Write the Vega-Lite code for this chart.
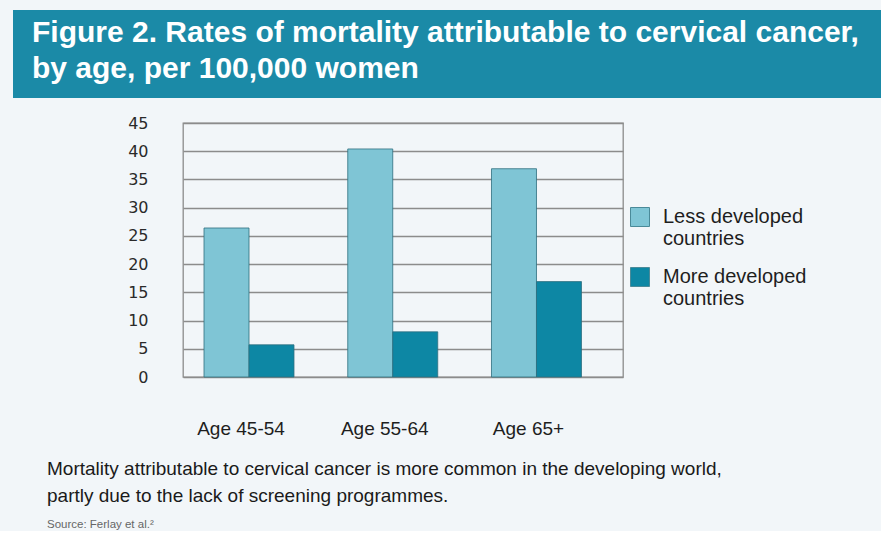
{
  "$schema": "https://vega.github.io/schema/vega-lite/v6.json",
  "background": "#f2f6f9",
  "padding": {"left": 13, "top": 10, "right": 0, "bottom": 0},
  "spacing": 17,
  "config": {"view": {"stroke": null}, "font": "Liberation Sans"},
  "datasets": {
    "rates": [
      {"age": "Age 45-54", "group": "Less developed countries", "rate": 26.4},
      {"age": "Age 45-54", "group": "More developed countries", "rate": 5.7},
      {"age": "Age 55-64", "group": "Less developed countries", "rate": 40.4},
      {"age": "Age 55-64", "group": "More developed countries", "rate": 8.0},
      {"age": "Age 65+", "group": "Less developed countries", "rate": 36.9},
      {"age": "Age 65+", "group": "More developed countries", "rate": 16.9}
    ]
  },
  "vconcat": [
    {
      "width": 868,
      "height": 88,
      "view": {"fill": "#1b8aa7", "stroke": null},
      "data": {"values": [
        {"line": 1, "text": "Figure 2. Rates of mortality attributable to cervical cancer,"},
        {"line": 2, "text": "by age, per 100,000 women"}
      ]},
      "mark": {"type": "text", "align": "left", "baseline": "alphabetic", "dx": 19, "font": "Liberation Sans", "fontWeight": "bold", "fontSize": 30, "color": "#ffffff"},
      "encoding": {
        "x": {"datum": 0, "type": "quantitative", "scale": {"domain": [0, 1]}, "axis": null},
        "y": {"field": "line", "type": "quantitative", "scale": {"domain": [0.111, 2.556], "reverse": true, "zero": false, "nice": false}, "axis": null},
        "text": {"field": "text"}
      }
    },
    {
      "spacing": 34,
      "resolve": {"scale": {"y": "shared"}},
      "title": {
        "text": ["Mortality attributable to cervical cancer is more common in the developing world,", "partly due to the lack of screening programmes."],
        "subtitle": "Source: Ferlay et al.²",
        "orient": "bottom",
        "anchor": "start",
        "frame": "bounds",
        "dx": 34,
        "offset": 21,
        "font": "Liberation Sans",
        "fontSize": 19,
        "fontWeight": "normal",
        "color": "#1a1a1a",
        "lineHeight": 27,
        "subtitleFont": "Liberation Sans",
        "subtitleFontSize": 11.5,
        "subtitleColor": "#666666",
        "subtitlePadding": 13
      },
      "hconcat": [
        {
          "width": 135,
          "height": 254,
          "view": {"stroke": null},
          "data": {"name": "rates"},
          "mark": {"type": "point", "opacity": 0},
          "encoding": {
            "y": {
              "field": "rate", "type": "quantitative",
              "scale": {"domain": [0, 45], "nice": false},
              "axis": {"orient": "right", "title": null, "values": [0, 5, 10, 15, 20, 25, 30, 35, 40, 45], "grid": false, "domain": false, "ticks": false, "labelPadding": 0, "labelAlign": "right", "labelFont": "DejaVu Sans", "labelFontSize": 16, "labelColor": "#2a2a2a"}
            }
          }
        },
        {
          "width": 440,
          "height": 254,
          "view": {"stroke": "#8c8c8c", "strokeWidth": 1.3},
          "data": {"name": "rates"},
          "mark": {"type": "bar", "stroke": "#2f6f7f", "strokeWidth": 0.8},
          "encoding": {
            "x": {
              "field": "age", "type": "nominal", "sort": null,
              "scale": {"paddingInner": 0.374, "paddingOuter": 0.2175, "align": 0.336},
              "axis": {"title": null, "labelAngle": 0, "domain": false, "ticks": false, "labelPadding": 42, "labelOffset": -8, "labelFont": "Liberation Sans", "labelFontSize": 19, "labelColor": "#1e1e1e"}
            },
            "xOffset": {"field": "group", "type": "nominal", "sort": null, "scale": {"paddingInner": 0}},
            "y": {
              "field": "rate", "type": "quantitative",
              "scale": {"domain": [0, 45], "nice": false},
              "axis": {"title": null, "values": [0, 5, 10, 15, 20, 25, 30, 35, 40, 45], "grid": true, "gridColor": "#8c8c8c", "gridWidth": 1.3, "domain": false, "ticks": false, "labels": false}
            },
            "color": {
              "field": "group", "type": "nominal", "sort": null,
              "scale": {"domain": ["Less developed countries", "More developed countries"], "range": ["#7fc5d5", "#0d87a4"]},
              "legend": {
                "title": null,
                "orient": "none",
                "legendX": 617,
                "legendY": 197,
                "symbolType": "square",
                "symbolSize": 361,
                "symbolStrokeColor": "#4a8a99",
                "symbolStrokeWidth": 1,
                "labelFont": "Liberation Sans",
                "labelFontSize": 20,
                "labelColor": "#1e1e1e",
                "labelLimit": 400,
                "labelOffset": 13,
                "rowPadding": 16,
                "labelExpr": "datum.label == 'Less developed countries' ? ['Less developed', 'countries'] : ['More developed', 'countries']"
              }
            }
          }
        }
      ]
    }
  ]
}
